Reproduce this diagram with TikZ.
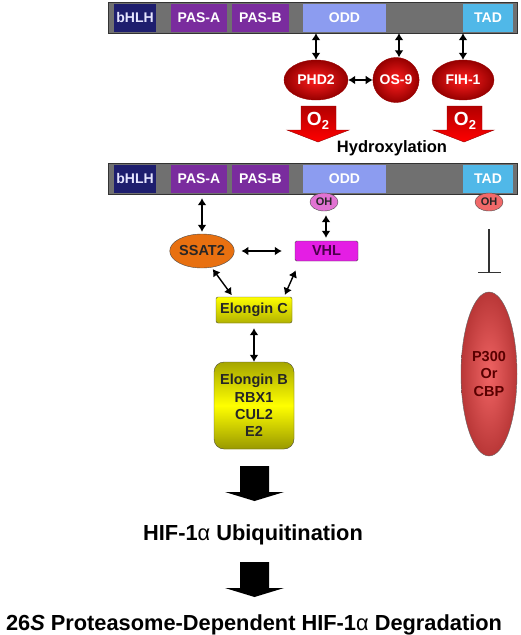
\documentclass[tikz,border=0pt]{standalone}
\usepackage{fontspec}
\setmainfont{Liberation Sans}
\usetikzlibrary{shapes.geometric, arrows.meta, calc}

\definecolor{barGray}{RGB}{112,112,112}
\definecolor{bhlhBlue}{RGB}{30,30,110}
\definecolor{pasPurple}{RGB}{122,44,158}
\definecolor{oddBlue}{RGB}{140,156,240}
\definecolor{tadBlue}{RGB}{80,184,232}
\definecolor{enzRed}{RGB}{255,30,30}
\definecolor{enzDark}{RGB}{150,0,0}
\definecolor{ssatOrange}{RGB}{232,112,16}
\definecolor{vhlMagenta}{RGB}{228,30,228}
\definecolor{ohPink}{RGB}{225,115,210}
\definecolor{ohSalmon}{RGB}{240,105,105}
\definecolor{pSalmon}{RGB}{240,100,100}
\definecolor{pDark}{RGB}{185,55,55}

\begin{document}
\begin{tikzpicture}[x=1pt,y=-1pt]
      \tikzset{domain/.style={fill=#1, minimum height=28pt, inner sep=0pt,
          text=white, font=\fontsize{14}{14}\selectfont\bfseries},
        hydroxylase/.style={ellipse, draw=enzDark, inner color=enzRed,
          outer color=enzDark, text=white, inner sep=0pt,
          font=\fontsize{14}{14}\selectfont\bfseries},
        factor/.style={draw=black!70, fill=#1, inner sep=0pt,
          text=black!85, font=\fontsize{14.5}{14.5}\selectfont\bfseries},
        hydroxyl/.style={ellipse, draw=black!70, fill=#1, inner sep=0pt,
          minimum width=28pt, minimum height=18pt, text=black!85,
          font=\fontsize{11}{11}\selectfont\bfseries},
        bind/.style={{Latex[length=7pt,width=9pt]}-{Latex[length=7pt,width=9pt]},
          line width=1.4pt},
        blockarrow/.style={draw=#1!60!black, top color=#1!70!black,
          bottom color=#1},
        step text/.style={font=\fontsize{21.8}{21.8}\selectfont\bfseries}
      }
      \useasboundingbox (0,0) rectangle (520,635);

      % the two HIF-1alpha bars
      \foreach \y/\n in {17.5/1, 178.5/2} {
        \node [draw=black!80, fill=barGray, minimum width=409pt,
          minimum height=31pt, inner sep=0pt] (bar\n) at (312.5,\y) {};
        \node [domain=bhlhBlue, minimum width=42pt, text=blue!10] at (135,\y) {bHLH};
        \node [domain=pasPurple, minimum width=56pt] at (199,\y) {PAS-A};
        \node [domain=pasPurple, minimum width=57pt] at (260.5,\y) {PAS-B};
        \node [domain=oddBlue, minimum width=83pt] at (344.5,\y) {ODD};
        \node [domain=tadBlue, minimum width=50pt] at (488,\y) {TAD};
      }

      % hydroxylases
      \node [hydroxylase, minimum width=64pt, minimum height=40pt] (phd) at (316,80) {PHD2};
      \node [hydroxylase, minimum width=44pt, minimum height=45pt] (osnine) at (396,80) {OS-9};
      \node [hydroxylase, minimum width=62pt, minimum height=40pt] (fih) at (463,80) {FIH-1};
      \draw [bind] (phd.north |- bar1.south) -- (phd.north);
      \draw [bind] ([xshift=3pt]osnine.north |- bar1.south) -- ([xshift=3pt]osnine.north);
      \draw [bind] (fih.north |- bar1.south) -- (fih.north);
      \draw [bind] (phd.east) -- (osnine.west);

      % oxygen arrows
      \draw [blockarrow=red] (301,106) -- (336,106) -- (336,130) -- (349,130)
        -- (318,142) -- (287,130) -- (301,130) -- cycle;
      \draw [blockarrow=red] (447,106) -- (482,106) -- (482,130) -- (494,130)
        -- (464,142) -- (433,130) -- (447,130) -- cycle;
      \node [text=white, font=\fontsize{19}{19}\selectfont\bfseries] (otwoa) at (318,121)
        {O\raisebox{-0.45ex}{\fontsize{13}{13}\selectfont 2}};
      \node [text=white, font=\fontsize{19}{19}\selectfont\bfseries] (otwob) at (465,121)
        {O\raisebox{-0.45ex}{\fontsize{13}{13}\selectfont 2}};
      \node [font=\fontsize{16.5}{16.5}\selectfont\bfseries] (hydrox) at (392,148) {Hydroxylation};

      % hydroxylated residues and binding partners
      \node [hydroxyl=ohPink] (ohodd) at (324,202) {OH};
      \node [hydroxyl=ohSalmon] (ohtad) at (489,202) {OH};
      \node [factor=ssatOrange, ellipse, minimum width=64pt, minimum height=34pt] (ssat) at (202,251) {SSAT2};
      \node [factor=vhlMagenta, minimum width=63pt, minimum height=20pt, rounded corners=1.5pt,
        text=violet!60!black] (vhl) at (326.5,251) {VHL};
      \node [factor=yellow, top color=yellow, bottom color=yellow!70!black,
        minimum width=76pt, minimum height=26pt, rounded corners=2pt] (elc) at (254,310) {Elongin C};
      \node [factor=yellow, top color=yellow!65!black, bottom color=yellow!60!black,
        middle color=yellow, minimum width=80pt, minimum height=87pt,
        rounded corners=10pt, align=center,
        font=\fontsize{14.5}{17.3}\selectfont\bfseries] (elb) at (254,405.5)
        {Elongin B\\RBX1\\CUL2\\E2};
      \node [ellipse, draw=black!60, inner color=pSalmon, outer color=pDark,
        minimum width=56pt, minimum height=164pt, inner sep=0pt, align=center,
        text=red!35!black, font=\fontsize{14.5}{17.5}\selectfont\bfseries] (ptcbp) at (489,374)
        {P300\\Or\\CBP};

      \draw [bind, shorten <=4pt, shorten >=2pt] (ssat.north |- bar2.south) -- (ssat.north);
      \draw [bind, shorten <=4pt, shorten >=3pt] ([xshift=2pt]ohodd.south) -- ([xshift=2pt]ohodd.south |- vhl.north);
      \draw [bind, shorten <=7pt, shorten >=13pt] (ssat.east) -- (vhl.west);
      \draw [bind, shorten <=2pt, shorten >=2pt] (ssat.300) -- ([xshift=-21pt]elc.north);
      \draw [bind, shorten <=10pt, shorten >=2pt] ([xshift=5pt]vhl.south west) -- ([xshift=30pt]elc.north);
      \draw [bind, shorten <=5pt] (elc.south) -- (elb.north);
      \draw [-{Bar[width=23pt]}, line width=1.3pt, black!80, shorten <=18pt, shorten >=19pt]
        (ohtad.south) -- (ptcbp.north);

      % downstream steps
      \fill (240,466) -- (269,466) -- (269,492) -- (284,492) -- (254.5,501)
        -- (225,492) -- (240,492) -- cycle;
      \node [step text] (ubiq) at (253,535) {HIF-1{\mdseries α} Ubiquitination};
      \fill (240,562) -- (269,562) -- (269,588) -- (284,588) -- (254.5,597)
        -- (225,588) -- (240,588) -- cycle;
      \node [step text] (degr) at (254,625) {26\textit{S} Proteasome-Dependent HIF-1{\mdseries α} Degradation};

    \end{tikzpicture}
\end{document}
